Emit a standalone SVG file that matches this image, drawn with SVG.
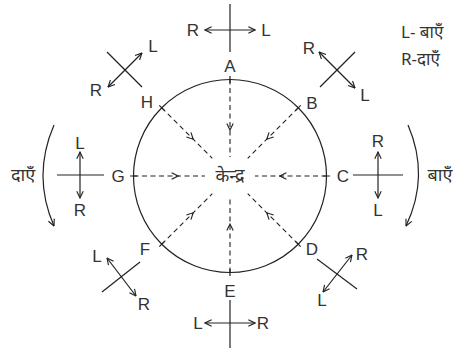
<svg xmlns="http://www.w3.org/2000/svg" width="459" height="350" viewBox="0 0 459 350">
<style>
.ln{stroke:#222;stroke-width:1.2;fill:none}
.dash{stroke:#222;stroke-width:1.1;fill:none;stroke-dasharray:5 3.5}
.dbl{stroke:#222;stroke-width:1.2;fill:none;marker-start:url(#ah);marker-end:url(#ah)}
.one{stroke:#222;stroke-width:1.2;fill:none;marker-end:url(#ah)}
.t{font-family:"Liberation Sans",Arial,sans-serif;font-size:17px;fill:#333;text-anchor:middle}
.d{font-family:"Noto Sans","Noto Sans Devanagari","DejaVu Sans",sans-serif;font-size:18px;fill:#333}
.lg{font-family:"Noto Sans","Noto Sans Devanagari","DejaVu Sans",sans-serif;font-size:17px;fill:#333}
</style>
<defs>
<marker id="ah" viewBox="0 0 10 10" refX="9.3" refY="5" markerWidth="8" markerHeight="8" orient="auto-start-reverse" markerUnits="userSpaceOnUse">
<path d="M1,1 L9.3,5 L1,9" fill="none" stroke="#222" stroke-width="1.4"/>
</marker>
<marker id="mid" viewBox="0 0 10 10" refX="9" refY="5" markerWidth="8" markerHeight="8" orient="auto" markerUnits="userSpaceOnUse">
<path d="M1,1 L9,5 L1,9" fill="none" stroke="#222" stroke-width="1.4"/>
</marker>
</defs>
<rect width="459" height="350" fill="#fff"/>

<g id="circle">
<circle cx="230" cy="176" r="96.5" class="ln"/>
</g>

<g id="connectors">
<path class="dash" marker-mid="url(#mid)" d="M230,79.5 L230,130 L230,157"/>
<path class="dash" marker-mid="url(#mid)" d="M230,272.5 L230,224 L230,196"/>
<path class="dash" marker-mid="url(#mid)" d="M133.5,176 L178,176 L205,176"/>
<path class="dash" marker-mid="url(#mid)" d="M326.5,176 L280,176 L255,176"/>
<path class="dash" marker-mid="url(#mid)" d="M161.8,107.8 L193.2,139.2 L212.3,158.3"/>
<path class="dash" marker-mid="url(#mid)" d="M298.2,107.8 L266.8,139.2 L247.7,158.3"/>
<path class="dash" marker-mid="url(#mid)" d="M161.8,244.2 L193.2,212.8 L212.3,193.7"/>
<path class="dash" marker-mid="url(#mid)" d="M298.2,244.2 L266.8,212.8 L247.7,193.7"/>
<path class="ln" d="M230,76 V83 M230,269 V276 M130,176 H137 M323,176 H330 M159.3,105.3 L164.3,110.3 M300.7,105.3 L295.7,110.3 M159.3,246.7 L164.3,241.7 M300.7,246.7 L295.7,241.7"/>
</g>

<g id="center"><text class="d" x="230" y="182" text-anchor="middle">केन्द्र</text></g>

<g id="A">
<text class="t" x="230" y="72">A</text>
<path class="ln" d="M230,4 V52"/>
<path class="dbl" d="M205,30 H255"/>
<text class="t" x="193" y="36">R</text>
<text class="t" x="266" y="36">L</text>
</g>

<g id="E">
<text class="t" x="230" y="297">E</text>
<path class="ln" d="M230,300 V348"/>
<path class="dbl" d="M205,323 H255"/>
<text class="t" x="198" y="329">L</text>
<text class="t" x="263" y="329">R</text>
</g>

<g id="G">
<text class="t" x="118" y="182">G</text>
<path class="ln" d="M57,175 H104"/>
<path class="dbl" d="M80,152 V198"/>
<text class="t" x="80" y="149">L</text>
<text class="t" x="80" y="216">R</text>
<path class="one" d="M54,125 Q32,176 54,226"/>
<text class="d" x="23" y="181" text-anchor="middle">दाएँ</text>
</g>

<g id="C">
<text class="t" x="343" y="182">C</text>
<path class="ln" d="M353,175 H403"/>
<path class="dbl" d="M378,152 V198"/>
<text class="t" x="378" y="147">R</text>
<text class="t" x="378" y="216">L</text>
<path class="one" d="M408,125 Q430,176 406,226"/>
<text class="d" x="440" y="181" text-anchor="middle">बाएँ</text>
</g>

<g id="H">
<text class="t" x="147" y="108">H</text>
<path class="ln" d="M107,52 L142,87"/>
<path class="dbl" d="M108,87 L142,53"/>
<text class="t" x="153" y="52">L</text>
<text class="t" x="96" y="96">R</text>
</g>

<g id="B">
<text class="t" x="312" y="109">B</text>
<path class="ln" d="M320,87 L355,52"/>
<path class="dbl" d="M319,52 L355,88"/>
<text class="t" x="309" y="54">R</text>
<text class="t" x="365" y="101">L</text>
</g>

<g id="F">
<text class="t" x="145" y="255">F</text>
<path class="ln" d="M102,292 L140,262"/>
<path class="dbl" d="M107,258 L136,296"/>
<text class="t" x="97" y="262">L</text>
<text class="t" x="144" y="310">R</text>
</g>

<g id="D">
<text class="t" x="312" y="255">D</text>
<path class="ln" d="M317,259 L357,289"/>
<path class="dbl" d="M323,292 L352,255"/>
<text class="t" x="362" y="260">R</text>
<text class="t" x="322" y="306">L</text>
</g>

<g id="legend">
<text class="lg" x="401" y="38">L- बाएँ</text>
<text class="lg" x="401" y="65">R-दाएँ</text>
</g>
</svg>
